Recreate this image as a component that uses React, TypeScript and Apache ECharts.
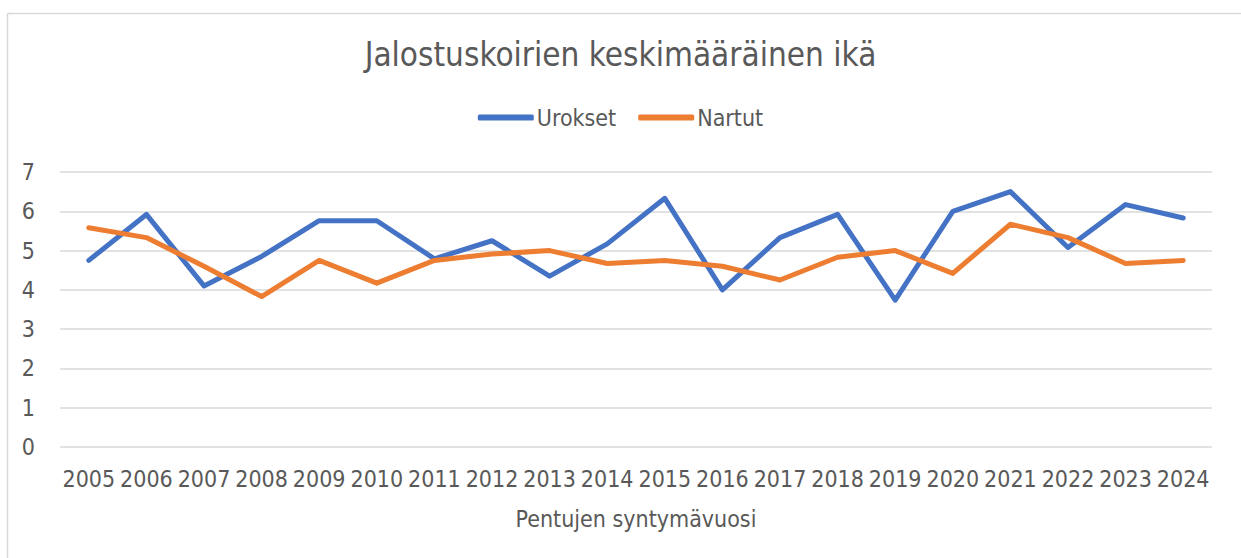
import React, { useEffect, useRef } from "react";
import * as echarts from "echarts";

const years = ["2005","2006","2007","2008","2009","2010","2011","2012","2013","2014","2015","2016","2017","2018","2019","2020","2021","2022","2023","2024"];
const urokset = [4.75, 5.92, 4.1, 4.85, 5.76, 5.76, 4.79, 5.25, 4.35, 5.17, 6.33, 4.0, 5.33, 5.92, 3.74, 6.0, 6.5, 5.08, 6.17, 5.83];
const nartut = [5.58, 5.33, 4.6, 3.83, 4.75, 4.17, 4.75, 4.91, 5.0, 4.67, 4.75, 4.6, 4.25, 4.83, 5.0, 4.42, 5.67, 5.33, 4.67, 4.75];
const yTicks = [0, 7, 1];

const FONT = "'Liberation Sans Narrow', 'DejaVu Sans Condensed', 'Liberation Sans', sans-serif";
const TXT = "#595959";

export default function App() {
  const ref = useRef<HTMLDivElement>(null);
  useEffect(() => {
    document.body.style.margin = "0";
    const chart = echarts.init(ref.current!, null, { renderer: "svg" });
    chart.setOption({
      animation: false,
      backgroundColor: "#ffffff",
      textStyle: { fontFamily: FONT, color: TXT },
      title: {
        text: "Jalostuskoirien keskimääräinen ikä",
        left: "center",
        top: 33,
        textStyle: { fontFamily: FONT, fontSize: 33, fontWeight: "normal", color: TXT },
      },
      legend: {
        top: 101,
        left: "center",
        icon: "roundRect",
        itemWidth: 56,
        itemHeight: 6,
        itemGap: 22,
        textStyle: { fontFamily: FONT, fontSize: 23, color: TXT, padding: [0, 0, 0, -2] },
        data: ["Urokset", "Nartut"],
      },
      grid: { left: 60, right: 29, top: 172, bottom: 111, containLabel: false },
      xAxis: {
        type: "category",
        data: years,
        boundaryGap: true,
        axisLine: { show: false },
        axisTick: { show: false },
        axisLabel: { fontFamily: FONT, fontSize: 23, color: TXT, margin: 20, interval: 0 },
        name: "Pentujen syntymävuosi",
        nameLocation: "middle",
        nameGap: 60,
        nameTextStyle: { fontFamily: FONT, fontSize: 23, color: TXT },
      },
      yAxis: {
        type: "value",
        min: yTicks[0],
        max: yTicks[1],
        interval: yTicks[2],
        axisLine: { show: false },
        axisTick: { show: false },
        axisLabel: { fontFamily: FONT, fontSize: 23, color: TXT, margin: 25 },
        splitLine: { lineStyle: { color: "#d9d9d9", width: 1.5 } },
      },
      graphic: [
        { type: "line", shape: { x1: 7.5, y1: 13.5, x2: 1241, y2: 13.5 }, style: { stroke: "#d9d9d9", lineWidth: 1.5 } },
        { type: "line", shape: { x1: 7.5, y1: 13.5, x2: 7.5, y2: 558 }, style: { stroke: "#d9d9d9", lineWidth: 1.5 } },
      ],
      series: [
        {
          name: "Urokset",
          type: "line",
          data: urokset,
          showSymbol: false,
          symbol: "none",
          itemStyle: { color: "#4472C4" },
          lineStyle: { color: "#4472C4", width: 5, cap: "round", join: "round" },
        },
        {
          name: "Nartut",
          type: "line",
          data: nartut,
          showSymbol: false,
          symbol: "none",
          itemStyle: { color: "#ED7D31" },
          lineStyle: { color: "#ED7D31", width: 5, cap: "round", join: "round" },
        },
      ],
    });
    return () => chart.dispose();
  }, []);
  return <div ref={ref} style={{ width: 1241, height: 558, position: "absolute", left: 0, top: 0 }} />;
}
